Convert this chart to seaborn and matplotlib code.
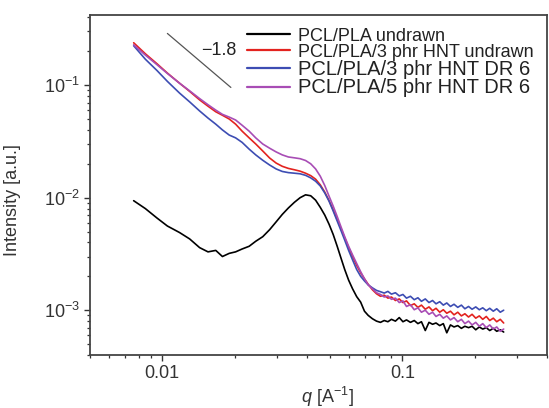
import numpy as np
import pandas as pd
import matplotlib
matplotlib.use("Agg")
import matplotlib.pyplot as plt
import seaborn as sns
from matplotlib.ticker import LogLocator, FixedLocator, FixedFormatter, LogFormatterSciNotation, NullFormatter

# ---------------- data ----------------
q = [0.0076, 0.0085, 0.0095, 0.0105, 0.0118, 0.0130, 0.0143, 0.0155, 0.0167, 0.0178,
     0.0190, 0.0202, 0.0215, 0.0230, 0.0245, 0.0262, 0.0280, 0.0298, 0.0316, 0.0335,
     0.0355, 0.0375, 0.0395, 0.0415, 0.0435, 0.0455, 0.0475, 0.0495, 0.0515, 0.0535,
     0.0555, 0.0575, 0.0597, 0.0620, 0.0645, 0.0670, 0.0695, 0.0720, 0.0750, 0.0780,
     0.0810, 0.0840, 0.0870, 0.0900, 0.0935, 0.0970, 0.1005, 0.1040, 0.1080, 0.1120,
     0.1160, 0.1200, 0.1245, 0.1290, 0.1335, 0.1380, 0.1430, 0.1480, 0.1530, 0.1585,
     0.1640, 0.1700, 0.1760, 0.1820, 0.1885, 0.1950, 0.2020, 0.2090, 0.2160, 0.2235,
     0.2310, 0.2390, 0.2470, 0.2555, 0.2640]

pcl_pla_undrawn = [
    0.0094, 0.0080, 0.0066, 0.0056, 0.0049, 0.0043, 0.0036, 0.0033, 0.0034, 0.0030,
    0.0032, 0.0033, 0.0035, 0.0037, 0.0041, 0.0045, 0.0052, 0.0061, 0.0071, 0.0081,
    0.0091, 0.0100, 0.0106, 0.0104, 0.0095, 0.0082, 0.0070, 0.0058, 0.0047, 0.0037,
    0.0029, 0.0023, 0.00185, 0.00155, 0.00132, 0.00118, 0.00098, 0.00090, 0.00084, 0.00080,
    0.00078, 0.00081, 0.00079, 0.00083, 0.00080, 0.00086, 0.00079, 0.00082, 0.00078, 0.00081,
    0.00076, 0.00079, 0.00066, 0.00078, 0.00075, 0.00077, 0.00073, 0.00076, 0.00063, 0.00074,
    0.00071, 0.00073, 0.00069, 0.00072, 0.00070, 0.00072, 0.00067, 0.00071, 0.00068, 0.00070,
    0.00066, 0.00069, 0.00065, 0.00067, 0.00064]

hnt3_undrawn = [
    0.238, 0.190, 0.155, 0.128, 0.104, 0.088, 0.074, 0.065, 0.058, 0.054,
    0.050, 0.045, 0.039, 0.034, 0.030, 0.026, 0.0225, 0.0203, 0.0190, 0.0182,
    0.0177, 0.0172, 0.0165, 0.0157, 0.0146, 0.0130, 0.0112, 0.0094, 0.0078, 0.0064,
    0.0053, 0.0044, 0.0036, 0.0030, 0.0025, 0.00215, 0.00190, 0.00170, 0.00152, 0.00140,
    0.00133, 0.00136, 0.00128, 0.00131, 0.00122, 0.00126, 0.00117, 0.00121, 0.00110, 0.00114,
    0.00106, 0.00111, 0.00102, 0.00107, 0.00099, 0.00104, 0.00096, 0.00101, 0.00094, 0.00098,
    0.00091, 0.00096, 0.00089, 0.00093, 0.00087, 0.00092, 0.00085, 0.00089, 0.00083, 0.00088,
    0.00081, 0.00085, 0.00079, 0.00083, 0.00077]

hnt3_dr6 = [
    0.224, 0.170, 0.135, 0.108, 0.085, 0.071, 0.059, 0.051, 0.045, 0.040,
    0.036, 0.034, 0.031, 0.027, 0.024, 0.0215, 0.0195, 0.0180, 0.0171, 0.0167,
    0.0165, 0.0163, 0.0158, 0.0150, 0.0140, 0.0127, 0.0110, 0.0093, 0.0076, 0.0062,
    0.0051, 0.0042, 0.0034, 0.0028, 0.0023, 0.0020, 0.00182, 0.00168, 0.00158, 0.00150,
    0.00146, 0.00142, 0.00147, 0.00139, 0.00143, 0.00134, 0.00138, 0.00128, 0.00133, 0.00124,
    0.00129, 0.00120, 0.00126, 0.00117, 0.00122, 0.00114, 0.00119, 0.00111, 0.00116, 0.00108,
    0.00113, 0.00106, 0.00111, 0.00103, 0.00108, 0.00102, 0.00107, 0.00101, 0.00105, 0.00099,
    0.00104, 0.00098, 0.00103, 0.00096, 0.00100]

hnt5_dr6 = [
    0.228, 0.185, 0.152, 0.127, 0.104, 0.089, 0.076, 0.067, 0.060, 0.055,
    0.052, 0.049, 0.044, 0.039, 0.034, 0.030, 0.0275, 0.0255, 0.0240, 0.0230,
    0.0226, 0.0222, 0.0214, 0.0200, 0.0180, 0.0155, 0.0128, 0.0103, 0.0084, 0.0068,
    0.0055, 0.0045, 0.0037, 0.0031, 0.0026, 0.0022, 0.00190, 0.00168, 0.00155, 0.00143,
    0.00138, 0.00131, 0.00134, 0.00125, 0.00128, 0.00117, 0.00121, 0.00108, 0.00112, 0.00101,
    0.00105, 0.00096, 0.00100, 0.00092, 0.00096, 0.00088, 0.00092, 0.00085, 0.00089, 0.00082,
    0.00086, 0.00079, 0.00083, 0.00076, 0.00080, 0.00074, 0.00078, 0.00072, 0.00076, 0.00070,
    0.00074, 0.00068, 0.00071, 0.00065, 0.00068]

labels = ["PCL/PLA undrawn", "PCL/PLA/3 phr HNT undrawn",
          "PCL/PLA/3 phr HNT DR 6", "PCL/PLA/5 phr HNT DR 6"]
colors = ["#000000", "#e3231f", "#3d4db3", "#a84db5"]

slope_q = [0.0105, 0.0193]
slope_I = [0.288, 0.0954]
slope_label = "\u22121.8"

x_ticks = [0.01, 0.1]
x_ticklabels = ["0.01", "0.1"]

# ---------------- figure ----------------
sns.set_theme(style="ticks")
plt.rcParams["font.family"] = ["Liberation Sans", "DejaVu Sans"]
plt.rcParams["mathtext.fontset"] = "custom"
plt.rcParams["mathtext.rm"] = "Liberation Sans"
plt.rcParams["mathtext.it"] = "Liberation Sans:italic"
plt.rcParams["mathtext.default"] = "regular"

series = [pcl_pla_undrawn, hnt3_undrawn, hnt3_dr6, hnt5_dr6]
df = pd.concat([pd.DataFrame({"q": q, "I": s, "sample": lab}) for s, lab in zip(series, labels)],
               ignore_index=True)

fig = plt.figure(figsize=(5.49, 4.08), dpi=100)
ax = fig.add_axes([90 / 549, 1 - 355 / 408, 457 / 549, 340 / 408])

sns.lineplot(data=df, x="q", y="I", hue="sample", palette=dict(zip(labels, colors)),
             hue_order=labels, estimator=None, sort=False, linewidth=1.2, ax=ax)

ax.set_xscale("log")
ax.set_yscale("log")
ax.set_xlim(0.005, 0.4)
ax.set_ylim(4.0e-4, 0.42)

ax.plot(slope_q, slope_I, color="#555555", linewidth=0.9)
ax.text(0.0172, 0.205, slope_label, fontsize=13, color="#222222", ha="center", va="center")

ax.xaxis.set_major_locator(FixedLocator(x_ticks))
ax.xaxis.set_major_formatter(FixedFormatter(x_ticklabels))
ax.xaxis.set_minor_locator(LogLocator(base=10, subs=np.arange(2, 10)))
ax.xaxis.set_minor_formatter(NullFormatter())
ax.yaxis.set_major_locator(LogLocator(base=10, numticks=10))
ax.yaxis.set_major_formatter(LogFormatterSciNotation())
ax.yaxis.set_minor_locator(LogLocator(base=10, subs=np.arange(2, 10), numticks=10))
ax.yaxis.set_minor_formatter(NullFormatter())

ax.tick_params(which="major", direction="out", length=4, width=1.0, color="#333333",
               labelsize=13, labelcolor="#333333", pad=3)
ax.tick_params(which="minor", direction="out", length=2.5, width=0.9, color="#333333")
for sp in ax.spines.values():
    sp.set_visible(True)
    sp.set_color("#444444")
    sp.set_linewidth(1.3)

ax.set_xlabel("$\\it{q}$ [A$^{-1}$]", fontsize=13, color="#333333")
ax.set_ylabel("Intensity [a.u.]", fontsize=13, color="#333333")
ax.xaxis.set_label_coords(0.52, -0.088)
ax.yaxis.set_label_coords(-0.15, 0.455)

handles, labs = ax.get_legend_handles_labels()
leg = ax.legend(handles, labs, loc="upper left", bbox_to_anchor=(0.3435, 0.963),
                frameon=False, borderpad=0, borderaxespad=0, handlelength=2.4,
                handletextpad=0.4, labelspacing=-0.05, fontsize=13)
for i, t in enumerate(leg.get_texts()):
    t.set_color("#222222")
    if i >= 2:
        t.set_fontsize(14.5)
for h in leg.get_lines():
    h.set_linewidth(1.6)

fig.savefig("out.png", dpi=100)
